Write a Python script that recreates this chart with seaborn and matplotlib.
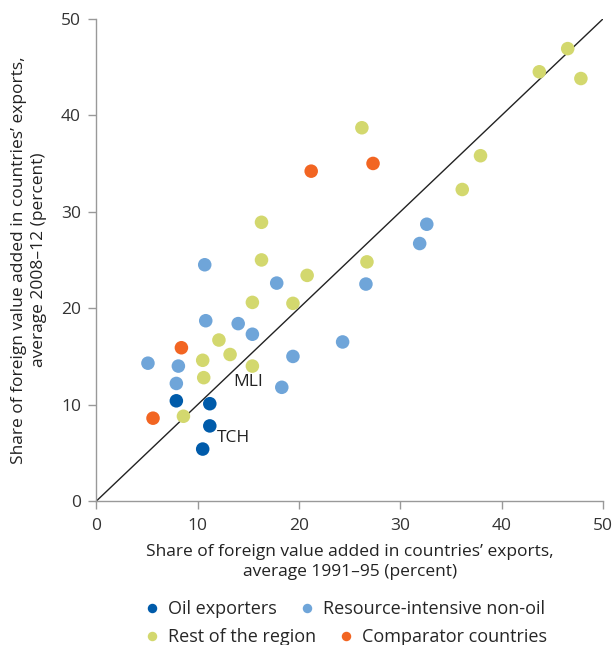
import pandas as pd
import matplotlib
matplotlib.use("Agg")
from matplotlib import pyplot as plt
import seaborn as sns

groups = ["Oil exporters", "Resource-intensive non-oil", "Rest of the region", "Comparator countries"]

oil_x = [7.9, 11.2, 11.2, 10.5]
oil_y = [10.4, 10.1, 7.8, 5.4]

res_x = [10.7, 17.8, 26.6, 10.8, 14.0, 15.4, 24.3, 19.4, 5.1, 8.1, 7.9, 18.3, 32.6, 31.9]
res_y = [24.5, 22.6, 22.5, 18.7, 18.4, 17.3, 16.5, 15.0, 14.3, 14.0, 12.2, 11.8, 28.7, 26.7]

rest_x = [46.5, 43.7, 47.8, 26.2, 37.9, 36.1, 16.3, 16.3, 26.7, 20.8, 15.4, 19.4, 12.1, 13.2, 10.5, 15.4, 10.6, 8.6]
rest_y = [46.9, 44.5, 43.8, 38.7, 35.8, 32.3, 28.9, 25.0, 24.8, 23.4, 20.6, 20.5, 16.7, 15.2, 14.6, 14.0, 12.8, 8.8]

comp_x = [8.4, 5.6, 21.2, 27.3]
comp_y = [15.9, 8.6, 34.2, 35.0]

colors = ["#005BAA", "#6FA5D9", "#D3D86E", "#F26522"]

rows = []
for g, xs, ys in zip(groups, [oil_x, res_x, rest_x, comp_x], [oil_y, res_y, rest_y, comp_y]):
    for a, b in zip(xs, ys):
        rows.append({"x": a, "y": b, "group": g})
df = pd.DataFrame(rows)

sns.set_style("white")
plt.rcParams["font.family"] = ["Open Sans", "DejaVu Sans"]

fig = plt.figure(figsize=(6.13, 6.45), dpi=100)
ax = fig.add_axes([0.157, 0.223, 0.827, 0.748])

ax.plot([0, 50], [0, 50], color="#222222", lw=1.0, zorder=1)
sns.scatterplot(data=df, x="x", y="y", hue="group", hue_order=groups,
                palette=colors, s=95, linewidth=0, ax=ax, zorder=3, legend=True)

ax.text(13.5, 12.4, "MLI", fontsize=12.5, color="#222222", va="center")
ax.text(11.9, 6.5, "TCH", fontsize=12.5, color="#222222", va="center")

ax.set_xlim(0, 50)
ax.set_ylim(0, 50)
ax.set_xticks(range(0, 51, 10))
ax.set_yticks(range(0, 51, 10))
for side in ["top", "right"]:
    ax.spines[side].set_visible(False)
for side in ["left", "bottom"]:
    ax.spines[side].set_color("#999999")
    ax.spines[side].set_linewidth(1.0)
ax.tick_params(axis="both", direction="out", length=6, width=1, color="#999999",
               labelsize=12.5, labelcolor="#333333", left=True, bottom=True)
ax.tick_params(axis="x", pad=6)
ax.tick_params(axis="y", pad=5)

ax.set_xlabel("Share of foreign value added in countries\u2019 exports,\naverage 1991\u201395 (percent)",
              fontsize=12.5, color="#222222", labelpad=7, linespacing=1.35)
ax.set_ylabel("Share of foreign value added in countries\u2019 exports,\naverage 2008\u201312 (percent)",
              fontsize=12.5, color="#222222", labelpad=10, linespacing=1.35)

handles, labels = ax.get_legend_handles_labels()
ax.get_legend().remove()
leg_kw = dict(ncol=2, frameon=False, fontsize=13, handlelength=1.0, handletextpad=0.4,
              columnspacing=1.15, markerscale=0.7, borderaxespad=0, borderpad=0,
              loc="center left")
leg1 = fig.legend(handles[0:2], labels[0:2], bbox_to_anchor=(0.233, 0.0558), **leg_kw)
leg2 = fig.legend(handles[2:4], labels[2:4], bbox_to_anchor=(0.233, 0.0124), **leg_kw)

fig.savefig("out.png", dpi=100)
